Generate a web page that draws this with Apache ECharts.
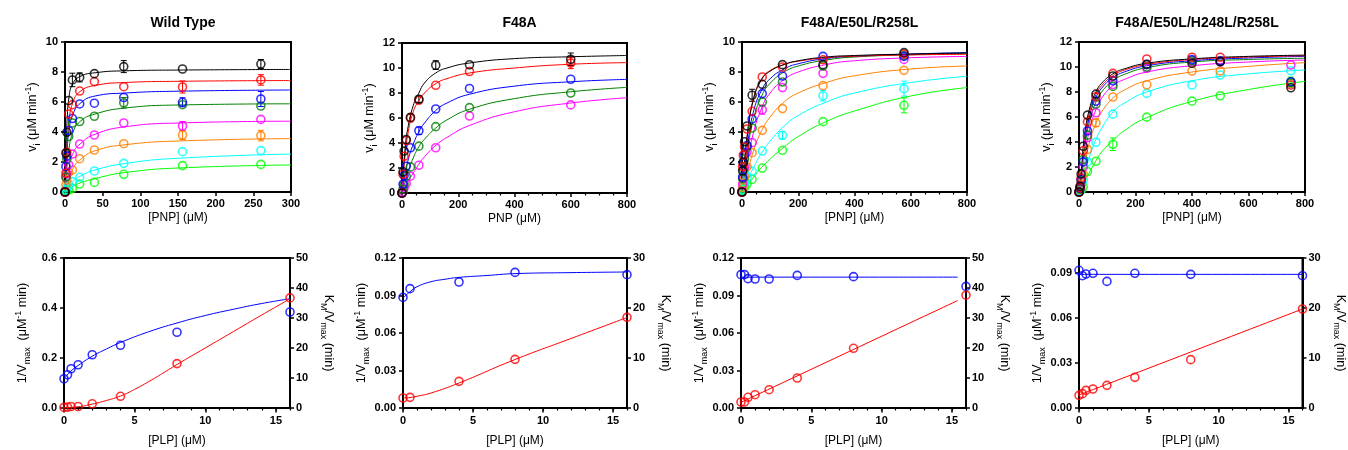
<!DOCTYPE html>
<html><head><meta charset="utf-8">
<script src="https://cdn.jsdelivr.net/npm/echarts@6/dist/echarts.min.js"></script>
<style>html,body{margin:0;padding:0;background:#fff}#c{width:1348px;height:450px}</style>
</head><body><div id="c"></div>
<script>
const FONT = 'Liberation Sans, Arial, Helvetica, sans-serif';
const COLORS = ['#000000','#ff0000','#0000ff','#008000','#ff00ff','#ff8000','#00ffff','#00ff00'];
const TITLES = ['Wild Type','F48A','F48A/E50L/R258L','F48A/E50L/H248L/R258L'];
const X_NAMES_TOP = ['[PNP] (\u03bcM)','PNP (\u03bcM)','[PNP] (\u03bcM)','[PNP] (\u03bcM)'];

// ---------- Wild Type ----------
const WT_X = [0,1.2,2.4,4.9,9.8,19.5,39,78,156,260];
const WT_Y = [
 [0,2.6,3.98,6.1,7.47,7.64,7.89,8.36,8.2,8.53],
 [0,1.25,2.65,5.2,5.82,6.73,7.36,7.02,7.0,7.47],
 [0,1.7,2.4,4.1,4.9,5.87,5.92,6.3,5.98,6.2],
 [0,1.0,2.2,3.7,4.6,4.7,5.05,5.95,5.82,5.73],
 [0,1.0,1.24,1.82,2.53,3.2,3.8,4.6,4.4,4.84],
 [0,0.47,0.8,1.3,1.47,2.22,2.8,3.22,3.8,3.76],
 [0,0.15,0.3,0.47,0.69,0.98,1.4,1.91,2.69,2.76],
 [0,0.05,0.1,0.13,0.24,0.53,0.64,1.18,1.76,1.84]
];
// [series, point, error]
const WT_ERR = [[0,4,0.45],[0,5,0.3],[0,7,0.4],[0,9,0.3],[1,9,0.35],[1,8,0.4],[2,9,0.5],[2,8,0.3],[3,7,0.35],[4,8,0.3],[5,8,0.3],[5,9,0.35]];
const WT_FX = [0,1,2,3,5,10,20,40,80,150,300];
const WT_FY = [
 [0,2.2,3.9,5.0,6.2,7.2,7.7,7.95,8.08,8.13,8.17],
 [0,1.3,2.4,3.3,4.6,5.9,6.7,7.1,7.3,7.38,7.43],
 [0,1.1,2.1,2.9,4.0,5.1,5.9,6.4,6.6,6.72,6.8],
 [0,0.6,1.3,1.9,2.8,3.9,4.7,5.2,5.6,5.8,5.88],
 [0,0.25,0.55,0.9,1.5,2.5,3.2,3.85,4.35,4.6,4.72],
 [0,0.1,0.25,0.45,0.85,1.5,2.15,2.75,3.15,3.4,3.56],
 [0,0.05,0.1,0.2,0.35,0.68,1.05,1.47,1.9,2.25,2.53],
 [0,0.02,0.05,0.1,0.18,0.36,0.6,0.9,1.3,1.6,1.8]
];

// ---------- F48A ----------
const F1_X = [0,3.75,7.5,15,30,60,120,240,600];
const F1_Y = [
 [0,1.69,3.35,4.28,6.05,7.5,10.23,10.26,10.7],
 [0,1.5,2.94,4.2,6.0,7.42,8.62,9.72,10.4],
 [0,0.7,1.4,2.14,3.62,4.98,6.72,8.36,9.1],
 [0,0.3,0.7,1.35,2.09,3.75,5.31,6.83,8.0],
 [0,0.1,0.4,0.75,1.35,2.22,3.62,6.16,7.05]
];
const F1_ERR = [[0,8,0.5],[0,6,0.35],[1,8,0.45],[0,5,0.25],[1,4,0.3],[2,5,0.3]];
const F1_FX = [0,10,20,40,60,80,120,160,240,400,600,800];
const F1_FY = [
 [0,3.3,5.1,7.0,8.0,8.8,9.6,10.0,10.4,10.75,10.9,11.0],
 [0,2.8,4.6,6.5,7.4,8.0,8.75,9.15,9.6,10.0,10.3,10.43],
 [0,1.4,2.5,3.9,4.9,5.6,6.6,7.2,7.9,8.55,8.9,9.09],
 [0,0.8,1.6,2.8,3.7,4.3,5.2,5.85,6.7,7.55,8.1,8.45],
 [0,0.4,0.85,1.6,2.3,2.9,3.8,4.45,5.4,6.5,7.2,7.62]
];

// ---------- F48A/E50L/R258L ----------
const F3_X = [0,2.25,4.5,9,18,36,72,144,288,576];
const F3_Y = [
 [0,1.4,2.0,3.35,4.4,6.45,7.18,8.49,8.49,9.29],
 [0,1.7,2.45,3.0,4.2,5.38,7.67,8.33,8.82,9.2],
 [0,1.0,1.9,2.5,3.1,4.87,6.56,7.73,9.04,9.04],
 [0,0.9,1.5,2.2,3.0,4.27,6.0,7.33,8.4,9.1],
 [0,0.5,0.9,1.65,2.67,3.29,5.49,6.96,7.91,8.84],
 [0,0.3,0.6,1.0,1.67,2.62,4.11,5.56,7.09,8.11],
 [0,0.15,0.3,0.6,1.0,1.38,2.73,3.78,6.42,6.89],
 [0,0.1,0.2,0.3,0.55,0.84,1.6,2.78,4.69,5.78]
];
const F3_ERR = [[0,5,0.4],[6,9,0.5],[7,9,0.5],[6,8,0.35],[4,6,0.3],[6,7,0.25]];
const F3_FX = [0,10,20,40,70,100,150,200,300,400,600,800];
const F3_FY = [
 [0,2.2,3.9,6.1,7.5,8.05,8.5,8.75,9.0,9.1,9.2,9.27],
 [0,2.3,4.0,6.2,7.55,8.1,8.5,8.72,8.95,9.05,9.14,9.18],
 [0,1.7,3.2,5.3,6.8,7.55,8.2,8.55,8.9,9.05,9.2,9.29],
 [0,1.4,2.8,4.8,6.4,7.25,8.0,8.4,8.8,9.0,9.15,9.25],
 [0,0.9,2.0,3.9,5.6,6.6,7.5,8.0,8.5,8.75,8.95,9.04],
 [0,0.6,1.3,2.7,4.1,5.0,6.0,6.6,7.3,7.75,8.2,8.4],
 [0,0.35,0.75,1.6,2.6,3.4,4.4,5.1,6.0,6.6,7.3,7.71],
 [0,0.2,0.45,0.95,1.65,2.2,3.0,3.7,4.7,5.4,6.4,6.96]
];

// ---------- F48A/E50L/H248L/R258L ----------
const F4_X = [0,3.75,7.5,15,30,60,120,240,400,500,750];
const F4_Y = [
 [0,0.45,1.45,3.66,6.15,7.83,9.28,10.21,10.3,10.43,8.34],
 [0,0.35,1.1,3.3,5.61,7.62,9.49,10.64,10.78,10.78,8.56],
 [0,0.3,1.0,2.41,4.89,7.27,8.9,10.2,10.6,10.5,8.82],
 [0,0.25,0.9,2.6,4.55,7.03,8.45,10.0,10.5,10.45,8.75],
 [0,0.4,0.8,2.0,4.36,6.34,8.6,9.9,10.5,10.4,10.16],
 [0,0.2,0.6,1.4,3.4,5.53,7.6,8.58,9.68,9.68,8.7],
 [0,0.1,0.4,0.94,2.41,3.98,6.23,7.89,8.56,9.36,9.7],
 [0,0.05,0.15,0.4,1.63,2.46,3.82,5.99,7.27,7.7,8.8]
];
const F4_ERR = [[7,6,0.5],[7,10,0.4],[5,5,0.3],[7,3,0.3]];
const F4_FX = [0,10,20,40,60,80,120,160,240,400,600,800];
const F4_FY = [
 [0,2.2,4.6,6.9,8.0,8.7,9.45,9.85,10.3,10.65,10.85,10.95],
 [0,2.0,4.3,6.6,7.8,8.5,9.3,9.75,10.2,10.6,10.8,10.9],
 [0,1.8,3.9,6.3,7.55,8.3,9.15,9.6,10.1,10.5,10.72,10.85],
 [0,1.6,3.6,5.9,7.2,8.0,8.9,9.4,9.95,10.4,10.6,10.7],
 [0,1.3,3.0,5.2,6.6,7.5,8.5,9.0,9.6,10.1,10.4,10.56],
 [0,0.9,2.2,4.2,5.5,6.4,7.5,8.15,8.9,9.6,10.05,10.35],
 [0,0.6,1.5,3.0,4.2,5.1,6.4,7.1,8.0,8.9,9.45,9.76],
 [0,0.3,0.8,1.7,2.5,3.2,4.1,4.9,5.95,7.25,8.2,8.85]
];

// ---------- secondary plots (blue: 1/Vmax left axis, red: KM/Vmax right axis) ----------
const PLP_X = [0,0.25,0.5,1,2,4,8,16];
const PLP_X_F48A = [0,0.5,4,8,16];
const WT_INV_V = [0.117,0.133,0.157,0.173,0.213,0.251,0.303,0.384];
const WT_KV = [0.2,0.3,0.5,0.5,1.4,3.9,14.8,36.7];
const F1_INV_V = [0.0885,0.0955,0.1008,0.1085,0.1067];
const F1_KV = [2.0,2.13,5.33,9.73,18.13];
const F3_INV_V = [0.1067,0.1067,0.1035,0.1032,0.1032,0.1061,0.1051,0.0973];
const F3_KV = [2.0,2.0,3.56,4.44,6.1,10.0,19.9,37.6];
const F4_INV_V = [0.0918,0.0882,0.0893,0.0898,0.0844,0.0898,0.0891,0.0882];
const F4_KV = [2.53,2.87,3.53,3.8,4.53,6.13,9.67,19.8];

const WT_INV_FX = [0,0.5,1,2,3,4,6,8,10,12,14,16];
const WT_INV_FY = [0.117,0.148,0.17,0.207,0.236,0.262,0.305,0.34,0.37,0.395,0.418,0.437];
const WT_KV_FX = [0,1,2,3,4,5,6,7,8,10,12,14,16];
const WT_KV_FY = [0.1,0.4,1.3,2.5,4.0,6.2,8.8,11.6,14.5,20.0,25.5,31.0,36.4];
const F1_INV_FX = [0,0.5,1,2,3,4,6,8,12,16];
const F1_INV_FY = [0.088,0.093,0.097,0.101,0.103,0.1045,0.106,0.1075,0.1083,0.1088];
const F1_KV_FX = [0,0.5,1,2,4,8,12,16];
const F1_KV_FY = [2.0,2.1,2.35,3.0,5.0,9.7,13.9,18.1];
const F3_INV_FX = [0,15.4];
const F3_INV_FY = [0.1047,0.1047];
const F3_KV_FX = [0,15.4];
const F3_KV_FY = [1.9,35.8];
const F4_INV_FX = [0,16];
const F4_INV_FY = [0.0891,0.0891];
const F4_KV_FX = [0,16];
const F4_KV_FY = [2.6,19.8];

// ---------- layout ----------
const TOP_GRIDS = [[65,42,226,150],[402,43,225,150],[742,42,225,150],[1079,42,226,150]];
const BOT_GRIDS = [[64,258,226,150],[403,258,224,150],[741,258,225,150],[1079,258,225,150]];
const TOP_Y = [[10,2],[12,2],[10,2],[12,2]];
const TOP_X = [[300,50],[800,200],[800,200],[800,200]];
const BOT_L = [[0.6,0.2,1],[0.12,0.03,2],[0.12,0.03,2],[0.1,0.03,2]];
const BOT_R = [[50,10],[30,10],[50,10],[30,10]];

const grids=[], xAxes=[], yAxes=[], series=[], titles=[];
const TXT = {color:'#000',fontFamily:FONT};
const rich = {
  n:{...TXT,fontSize:12.5,lineHeight:18},
  sub:{...TXT,fontSize:9,verticalAlign:'bottom'},
  sup:{...TXT,fontSize:9,verticalAlign:'top'}
};
function ax(o){
  return Object.assign({
    type:'value', nameLocation:'middle',
    axisLine:{show:true,onZero:false,lineStyle:{color:'#000',width:2}},
    axisTick:{show:true,length:4,lineStyle:{color:'#000',width:1.5}},
    splitLine:{show:false},
    axisLabel:{color:'#000',fontFamily:FONT,fontSize:11,fontWeight:'bold',margin:6},
    nameTextStyle:{color:'#000',fontFamily:FONT,fontSize:12,rich:rich}
  },o);
}
function pts(xi,yi,xs,ys,c){
  series.push({type:'scatter',xAxisIndex:xi,yAxisIndex:yi,silent:true,z:3,
    data:xs.map((x,k)=>[x,ys[k]]),symbol:'circle',symbolSize:8,
    itemStyle:{color:'rgba(255,255,255,0)',borderColor:c,borderWidth:1.6}});
}
function crv(xi,yi,xs,ys,c){
  series.push({type:'line',xAxisIndex:xi,yAxisIndex:yi,silent:true,z:2,
    data:xs.map((x,k)=>[x,ys[k]]),showSymbol:false,symbol:'none',
    smooth:0.5,lineStyle:{color:c,width:1}});
}
function errs(xi,yi,X,Y,E){
  E.forEach(([s,k,e])=>{
    series.push({type:'custom',xAxisIndex:xi,yAxisIndex:yi,silent:true,z:2,
      data:[[X[k],Y[s][k],e]],
      renderItem:(p,api)=>{
        const x=api.value(0),y=api.value(1),d=api.value(2);
        const a=api.coord([x,y+d]), b=api.coord([x,y-d]);
        const st={stroke:COLORS[s],lineWidth:1};
        return {type:'group',children:[
          {type:'line',shape:{x1:a[0],y1:a[1],x2:b[0],y2:b[1]},style:st},
          {type:'line',shape:{x1:a[0]-3,y1:a[1],x2:a[0]+3,y2:a[1]},style:st},
          {type:'line',shape:{x1:b[0]-3,y1:b[1],x2:b[0]+3,y2:b[1]},style:st}]};
      }});
  });
}

const TOP_DATA = [[WT_X,WT_Y,WT_FX,WT_FY,WT_ERR],[F1_X,F1_Y,F1_FX,F1_FY,F1_ERR],[F3_X,F3_Y,F3_FX,F3_FY,F3_ERR],[F4_X,F4_Y,F4_FX,F4_FY,F4_ERR]];
TOP_GRIDS.forEach((g,i)=>{
  grids.push({left:g[0],top:g[1],width:g[2],height:g[3],show:true,borderColor:'#000',borderWidth:2,backgroundColor:'transparent'});
  const gi = grids.length-1;
  titles.push({text:TITLES[i],left:g[0]+g[2]/2,top:11,textAlign:'center',
    textStyle:{fontFamily:FONT,fontSize:14,fontWeight:'bold',color:'#000'}});
  const xi = xAxes.length;
  xAxes.push(ax({gridIndex:gi,min:0,max:TOP_X[i][0],interval:TOP_X[i][1],
    minorTick:{show:i>0,splitNumber:4,length:2.5,lineStyle:{color:'#000',width:1.2}},
    name:X_NAMES_TOP[i],nameGap:20}));
  const yi = yAxes.length;
  yAxes.push(ax({gridIndex:gi,min:0,max:TOP_Y[i][0],interval:TOP_Y[i][1],
    axisLabel:{color:'#000',fontFamily:FONT,fontSize:11,fontWeight:'bold',margin:7},
    name:'{n|v}{sub|i}{n| (\u03bcM min}{sup|-1}{n|)}',nameGap:22}));
  const [X,Y,FX,FY,E] = TOP_DATA[i];
  errs(xi,yi,X,Y,E);
  for(let s=Y.length-1;s>=0;s--){
    crv(xi,yi,FX,FY[s],COLORS[s]);
    pts(xi,yi,X,Y[s],COLORS[s]);
  }
});

const BOT_DATA = [
  [PLP_X,WT_INV_V,WT_KV,WT_INV_FX,WT_INV_FY,WT_KV_FX,WT_KV_FY],
  [PLP_X_F48A,F1_INV_V,F1_KV,F1_INV_FX,F1_INV_FY,F1_KV_FX,F1_KV_FY],
  [PLP_X,F3_INV_V,F3_KV,F3_INV_FX,F3_INV_FY,F3_KV_FX,F3_KV_FY],
  [PLP_X,F4_INV_V,F4_KV,F4_INV_FX,F4_INV_FY,F4_KV_FX,F4_KV_FY]
];
BOT_GRIDS.forEach((g,i)=>{
  grids.push({left:g[0],top:g[1],width:g[2],height:g[3],show:true,borderColor:'#000',borderWidth:2,backgroundColor:'transparent'});
  const gi = grids.length-1;
  const xi = xAxes.length;
  xAxes.push(ax({gridIndex:gi,min:0,max:16,interval:5,position:'bottom',
    axisLabel:{color:'#000',fontFamily:FONT,fontSize:11,fontWeight:'bold',margin:7,showMaxLabel:false},
    axisTick:{show:true,length:4.5,lineStyle:{color:'#000',width:1.5}},
    name:'[PLP] (\u03bcM)',nameGap:27}));
  xAxes.push(ax({gridIndex:gi,min:0,max:16,interval:1,position:'bottom',
    axisLine:{show:false},axisLabel:{show:false},
    axisTick:{show:true,length:2.5,lineStyle:{color:'#000',width:1.2}}}));
  const L = BOT_L[i], R = BOT_R[i];
  const yl = yAxes.length;
  yAxes.push(ax({gridIndex:gi,min:0,max:L[0],interval:L[1],position:'left',
    axisLabel:{color:'#000',fontFamily:FONT,fontSize:11,fontWeight:'bold',margin:7,
      showMaxLabel: i===3 ? false : true, formatter:v=>v.toFixed(L[2])},
    name:'{n|1/V}{sub|max}{n|  (\u03bcM}{sup|-1}{n| min)}',nameGap:32}));
  const yr = yAxes.length;
  yAxes.push(ax({gridIndex:gi,min:0,max:R[0],interval:R[1],position:'right',
    axisLabel:{color:'#000',fontFamily:FONT,fontSize:11,fontWeight:'bold',margin:6},
    nameRotate:-90,
    name:'{n|K}{sub|M}{n|/V}{sub|max}{n| (min)}',nameGap:29}));
  const [X,IV,KV,IFX,IFY,KFX,KFY] = BOT_DATA[i];
  crv(xi,yl,IFX,IFY,'#0000ff');
  crv(xi,yr,KFX,KFY,'#ff0000');
  pts(xi,yl,X,IV,'#0000ff');
  pts(xi,yr,X,KV,'#ff0000');
});

const chart = echarts.init(document.getElementById('c'),null,{renderer:'canvas'});
chart.setOption({animation:false,backgroundColor:'#fff',title:titles,grid:grids,xAxis:xAxes,yAxis:yAxes,series:series});
</script></body></html>
